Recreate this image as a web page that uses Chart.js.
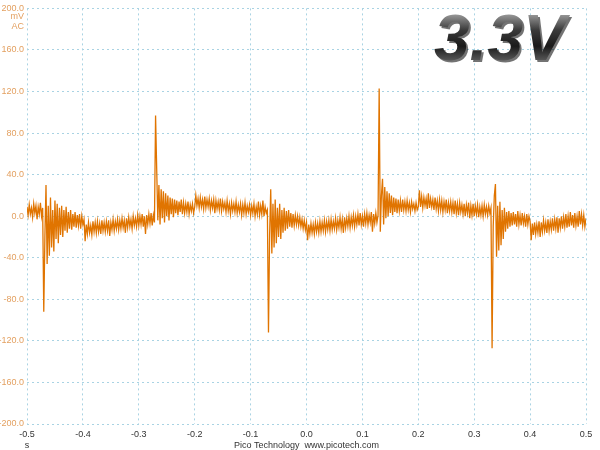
<!DOCTYPE html>
<html>
<head>
<meta charset="utf-8">
<script src="https://cdn.jsdelivr.net/npm/chart.js@4"></script>
<style>
  html, body { margin: 0; padding: 0; background: #ffffff; }
  #wrap { width: 600px; height: 450px; }
</style>
</head>
<body>
<div id="wrap"><canvas id="scope" width="600" height="450"></canvas></div>
<script>
// sample interval of the capture (s), first sample time
const sampleStart = -0.5;
const sampleStep = 0.002;

// channel A, mV (AC coupled), one value per sample
const channelA = [
    9, 1, 11, 2, 8, -1, 12, 3, 10, -3,
    9, 2, 13, 0, 8, -92, -20, 30, -46, 10,
    -38, 18, -30, 6, -34, 15, -22, 12, -26, 8,
    -18, 10, -20, 6, -14, 9, -16, 4, -12, 6,
    -13, 2, -10, 4, -11, 1, -9, 2, -12, 0,
    -8, -3, -24, -8, -17, -6, -16, -9, -18, -5,
    -15, -6, -16, -5, -15, -7, -17, -4, -14, -6,
    -15, -5, -14, -4, -19, -6, -13, -3, -14, -5,
    -12, -3, -13, -4, -12, -2, -11, -4, -16, -2,
    -11, -1, -10, -3, -12, 0, -9, -2, -10, 1,
    -9, 0, -8, 2, -10, 0, -17, 1, -8, 2,
    -7, 3, -9, 1, -6, 97, 46, -4, 30, -8,
    26, -2, 24, -6, 22, 0, 20, -4, 18, 2,
    17, -1, 16, 3, 15, 1, 14, 4, 16, 2,
    13, 3, 12, 4, 14, 2, 11, 5, 12, 3,
    9, 20, 10, 17, 8, 18, 9, 16, 7, 19,
    8, 16, 9, 17, 6, 15, 8, 16, 3, 15,
    7, 14, 6, 17, 5, 14, 7, 13, 4, 15,
    5, 12, 2, 13, 5, 12, 4, 14, 3, 11,
    4, 12, 1, 11, 3, 13, 2, 10, 4, 11,
    1, 10, 3, 12, 0, 9, 2, 14, 1, 10,
    2, 15, 0, 9, 3, 6, -112, -18, 26, -36,
    12, -30, 16, -26, 8, -20, 12, -22, 6, -16,
    8, -14, 5, -12, 6, -10, 3, -11, 2, -9,
    1, -8, 0, -9, -1, -10, -3, -12, -4, -13,
    -6, -23, -8, -17, -7, -16, -8, -17, -6, -15,
    -7, -16, -5, -15, -6, -14, -4, -15, -5, -13,
    -4, -14, -3, -13, -5, -12, -2, -13, -4, -11,
    -1, -12, -3, -16, -1, -11, -2, -10, 0, -11,
    -1, -9, 1, -10, 0, -8, 2, -9, 3, -8,
    0, -10, 2, -7, 3, -8, 1, -6, 4, -15,
    2, -7, 3, -6, 1, 123, -15, 20, 36, -8,
    28, -2, 24, 0, 22, 3, 20, 1, 18, 4,
    17, 3, 16, 5, 15, 4, 16, 6, 14, 5,
    15, 6, 13, 4, 14, 7, 12, 5, 13, 6,
    9, 25, 9, 19, 8, 18, 10, 17, 7, 22,
    8, 17, 9, 16, 6, 18, 7, 15, 5, 16,
    6, 15, 4, 14, 6, 16, 3, 13, 5, 14,
    4, 13, 2, 15, 3, 12, 1, 13, 4, 11,
    2, 12, 0, 11, 3, 13, -2, 10, 1, 12,
    0, 10, 2, 11, -1, 9, 1, 10, 0, 11,
    2, 9, 1, 10, 3, 8, -127, -10, 20, 31,
    -39, 10, -33, 14, -28, 6, -22, 8, -15, 4,
    -12, 5, -10, 3, -9, 4, -8, 2, -10, 5,
    -8, 1, -9, 3, -7, 0, -10, 2, -8, 0,
    -5, -23, -7, -18, -6, -17, -8, -16, -5, -20,
    -6, -15, -4, -14, -6, -16, -3, -14, -5, -13,
    -2, -14, -3, -12, -1, -16, -2, -11, 0, -12,
    -1, -10, 2, -11, 0, -10, 4, -9, 1, -11,
    3, -9, 0, -10, 5, -8, 2, -9, 1, -10,
    -2
];

const timeTicks = [-0.5, -0.4, -0.3, -0.2, -0.1, 0.0, 0.1, 0.2, 0.3, 0.4, 0.5];
const voltTicks = [-200, -160, -120, -80, -40, 0, 40, 80, 120, 160, 200];

const traceColour = '#e07400';
const labelColour = '#e3a060';
const gridColour = '#a9d3e3';
const labelFont = '"Liberation Sans", Arial, sans-serif';

const points = channelA.map((v, i) => ({ x: sampleStart + i * sampleStep, y: v }));

// extra text: units, footer and the big 3.3V badge
const scopeText = {
    id: 'scopeText',
    afterDraw(chart) {
        const ctx = chart.ctx;
        const area = chart.chartArea;
        ctx.save();

        ctx.fillStyle = labelColour;
        ctx.font = '9px ' + labelFont;
        ctx.textAlign = 'right';
        ctx.textBaseline = 'middle';
        ctx.fillText('mV', area.left - 3, 17);
        ctx.fillText('AC', area.left - 3, 27);

        ctx.fillStyle = '#333333';
        ctx.textAlign = 'center';
        ctx.fillText('s', area.left, 446);
        ctx.fillText('Pico Technology  www.picotech.com', (area.left + area.right) / 2, 446);

        ctx.font = 'italic bold 64px ' + labelFont;
        ctx.textAlign = 'left';
        ctx.textBaseline = 'alphabetic';
        ctx.fillStyle = 'rgba(0,0,0,0.55)';
        ctx.fillText('3.3V', 436, 62);
        const grad = ctx.createLinearGradient(0, 14, 0, 60);
        grad.addColorStop(0, '#9a9a9a');
        grad.addColorStop(0.35, '#3a3a3a');
        grad.addColorStop(0.7, '#1a1a1a');
        grad.addColorStop(1, '#555555');
        ctx.fillStyle = grad;
        ctx.fillText('3.3V', 434, 60);
        ctx.restore();
    }
};

new Chart(document.getElementById('scope'), {
    type: 'line',
    data: {
        datasets: [{
            data: points,
            borderColor: traceColour,
            borderWidth: 1.3,
            pointRadius: 0,
            tension: 0,
            fill: false
        }]
    },
    options: {
        responsive: false,
        animation: false,
        events: [],
        layout: { padding: { top: 4, right: 14, left: 0, bottom: 0 } },
        plugins: { legend: { display: false }, tooltip: { enabled: false } },
        scales: {
            x: {
                type: 'linear',
                min: -0.5,
                max: 0.5,
                afterFit(scale) { scale.height = 26; },
                afterBuildTicks(scale) { scale.ticks = timeTicks.map(v => ({ value: v })); },
                ticks: {
                    color: '#333333',
                    font: { family: labelFont, size: 9 },
                    padding: 5,
                    maxRotation: 0,
                    autoSkip: false,
                    callback: v => v.toFixed(1)
                },
                grid: { color: gridColour, lineWidth: 1, drawTicks: false },
                border: { display: false, dash: [2, 3] }
            },
            y: {
                min: -200,
                max: 200,
                afterFit(scale) { scale.width = 27; },
                afterBuildTicks(scale) { scale.ticks = voltTicks.map(v => ({ value: v })); },
                ticks: {
                    color: labelColour,
                    font: { family: labelFont, size: 9 },
                    padding: 3,
                    autoSkip: false,
                    callback: v => v.toFixed(1)
                },
                grid: { color: gridColour, lineWidth: 1, drawTicks: false },
                border: { display: false, dash: [2, 3] }
            }
        }
    },
    plugins: [scopeText]
});
</script>
</body>
</html>
